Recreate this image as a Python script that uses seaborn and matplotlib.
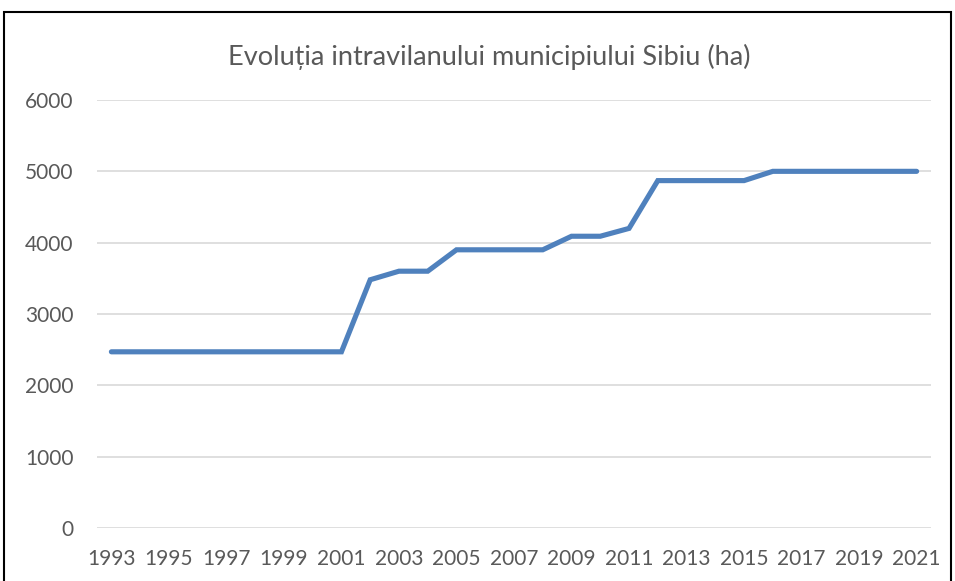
import matplotlib
matplotlib.use("Agg")
import matplotlib.pyplot as plt
import seaborn as sns
import pandas as pd
from matplotlib.patches import Rectangle

years = list(range(1993, 2022))
values = [2470, 2470, 2470, 2470, 2470, 2470, 2470, 2470, 2470,
          3480, 3600, 3600, 3900, 3900, 3900, 3900, 4090, 4090, 4200,
          4870, 4870, 4870, 4870, 5000, 5000, 5000, 5000, 5000, 5000]
title = "Evoluția intravilanului municipiului Sibiu (ha)"
yticks = [0, 1000, 2000, 3000, 4000, 5000, 6000]

sns.set_theme(style="white")
plt.rcParams['font.family'] = ['Lato', 'DejaVu Sans']

df = pd.DataFrame({"idx": range(len(years)), "year": years, "value": values})

fig = plt.figure(figsize=(9.55, 5.81), dpi=100)
ax = fig.add_axes([97/955, 1-528/581, (931-97)/955, (528-100)/581])

sns.lineplot(data=df, x="idx", y="value", ax=ax, color="#4F81BD",
             linewidth=3.7, solid_capstyle="round", solid_joinstyle="miter")

ax.set_xlim(-0.5, len(years)-0.5)
ax.set_ylim(0, 6000)
ax.set_yticks(yticks)
ax.set_yticklabels([str(v) for v in yticks])
ax.set_xticks(list(range(0, len(years), 2)))
ax.set_xticklabels([str(y) for y in years[::2]])
ax.yaxis.grid(True, color="#D9D9D9", linewidth=1.2)
ax.set_axisbelow(True)
for s in ax.spines.values():
    s.set_visible(False)
ax.tick_params(axis="both", length=0, labelsize=15, labelcolor="#595959")
ax.tick_params(axis="y", pad=17)
ax.tick_params(axis="x", pad=15)
ax.set_xlabel("")
ax.set_ylabel("")

fig.text(489/955, 1-57/581, title, ha="center", va="center",
         fontsize=19.5, color="#595959")

fig.patches.append(Rectangle((4/955, -0.05), (951-4)/955, 1-12/581+0.05,
                             transform=fig.transFigure, fill=False,
                             edgecolor="black", linewidth=1.5))

fig.savefig("out.png", dpi=100)
